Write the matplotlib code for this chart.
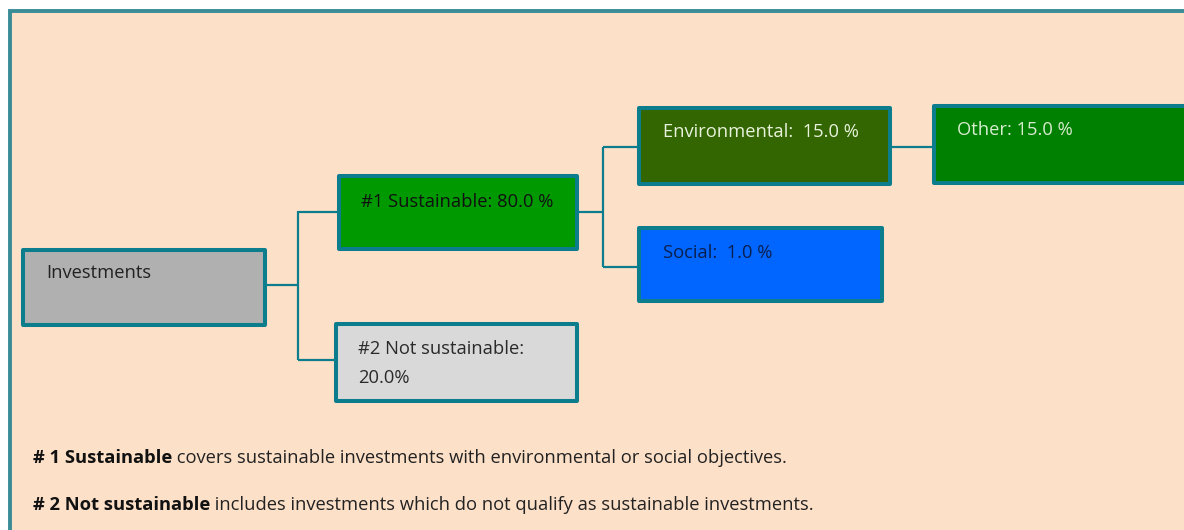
import matplotlib.pyplot as plt
from matplotlib.patches import Rectangle

# --- data ---
node_names = ['Investments', '#1 Sustainable', '#2 Not sustainable',
              'Environmental', 'Social', 'Other']
node_shares = [None, 80.0, 20.0, 15.0, 1.0, 15.0]
label_fmt = ['{n}', '{n}: {v:.1f} %', '{n}:\n{v:.1f}%',
             '{n}:  {v:.1f} %', '{n}:  {v:.1f} %', '{n}: {v:.1f} %']
note_heads = ['# 1 Sustainable', '# 2 Not sustainable']
note_bodies = [' covers sustainable investments with environmental or social objectives.',
               ' includes investments which do not qualify as sustainable investments.']

# --- layout (pixel coords, y down) ---
W, H = 1184, 530
boxes = [(21, 248, 267, 327), (337, 174, 579, 251), (334, 322, 579, 403),
         (637, 106, 892, 186), (637, 226, 884, 303), (932, 104, 1194, 185)]
text_pos = [(46, 273), (361, 202), (358, 349), (663, 132), (663, 253), (957, 130)]
fills = ['#b0b0b0', '#009900', '#d9d9d9', '#336600', '#0066ff', '#008000']
text_cols = ['#222222', '#111111', '#2a2a2a', '#e8f2dc', '#0a1f4d', '#d8ecd0']
edges = [
    [(267, 285), (298, 285)], [(298, 211), (298, 360)],
    [(298, 212), (337, 212)], [(298, 360), (334, 360)],
    [(579, 212), (603, 212)], [(603, 147), (603, 267)],
    [(603, 147), (637, 147)], [(603, 267), (637, 267)],
    [(892, 147), (932, 147)],
]
teal = '#0b7d8c'
bg = '#fde0c8'
fs = 13.2

plt.rcParams['font.family'] = ['Open Sans', 'DejaVu Sans']

fig = plt.figure(figsize=(W / 100, H / 100), dpi=100)
ax = fig.add_axes([0, 0, 1, 1])
ax.set_xlim(0, W)
ax.set_ylim(H, 0)
ax.axis('off')

# frame
ax.add_patch(Rectangle((9.5, 11), W, H, facecolor=bg, edgecolor='#3a8c96', lw=2.8, zorder=0))

for (x0, y0), (x1, y1) in edges:
    ax.plot([x0, x1], [y0, y1], color=teal, lw=1.6, zorder=1, solid_capstyle='butt')

for i, name in enumerate(node_names):
    x0, y0, x1, y1 = boxes[i]
    ax.add_patch(Rectangle((x0 + 2, y0 + 2), x1 - x0 - 4, y1 - y0 - 4,
                           facecolor=fills[i], edgecolor=teal, lw=2.9,
                           joinstyle='round', zorder=2))
    label = label_fmt[i].format(n=name, v=node_shares[i] if node_shares[i] is not None else 0)
    tx, ty = text_pos[i]
    for j, line in enumerate(label.split('\n')):
        ax.text(tx, ty + 29 * j, line, fontsize=fs, color=text_cols[i],
                ha='left', va='center', zorder=3)

for k, head in enumerate(note_heads):
    t = ax.text(33, 458 + 47 * k, head, fontsize=fs, fontweight='bold',
                color='#111111', ha='left', va='center')
    ax.annotate(note_bodies[k], xy=(1, 0.5), xycoords=t, va='center', ha='left',
                fontsize=fs, color='#222222')

fig.savefig('out.png', dpi=100, facecolor='white')
